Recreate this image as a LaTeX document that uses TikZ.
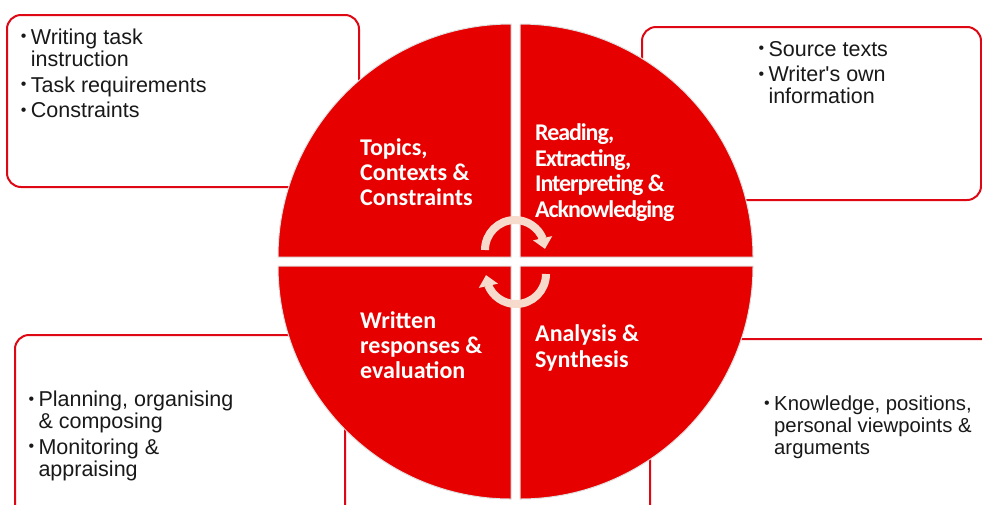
\documentclass[tikz,border=0pt]{standalone}
\usepackage{fontspec}
\setmainfont{Liberation Sans}
\newfontfamily\segfont{Carlito}
\newfontfamily\segfontcond[LetterSpace=-4.5]{Carlito}
\usetikzlibrary{arrows.meta, bending}
\definecolor{CircleRed}{RGB}{230,0,0}
\definecolor{FrameRed}{RGB}{222,8,20}
\definecolor{CycleArrow}{RGB}{246,218,204}
\definecolor{ListText}{RGB}{25,25,25}
\newcommand{\itemdot}{\makebox[10pt][l]{\raisebox{2.6pt}{\fontsize{16}{16}\selectfont\textbullet}}}
\tikzset{
  listbox/.style={draw=FrameRed, line width=2pt, fill=white, rounded corners=14pt},
  listtext/.style={anchor=base west, inner sep=0pt, text=ListText, font=\fontsize{21.5}{21}\selectfont},
  quarter/.style={fill=CircleRed, draw=black!12, line width=1pt},
  seglabel/.style={anchor=base west, inner sep=0pt, text=white, font=\segfont\bfseries\fontsize{24}{25.3}\selectfont},
  cyclearrow/.style={draw=CycleArrow, line width=8pt, -{Triangle[width=19pt, length=11pt]}}
}

\begin{document}
\begin{tikzpicture}[x=1pt, y=-1pt]

\useasboundingbox (0,0) rectangle (982,504);
\clip (0,0) rectangle (982,504);

% lists round the circle
\draw[listbox] (7,15) rectangle (359,187);
\draw[listbox] (642,27) rectangle (981,200);
\draw[listbox] (15,335) rectangle (345,520);
\draw[listbox] (650,339) rectangle (1000,520);

\node[listtext] (taskList) at (20.7,44.3) {\begin{tabular}[t]{@{}l@{}l@{}}
  \itemdot & Writing task\\ & instruction\\[4pt]
  \itemdot & Task requirements\\[4pt]
  \itemdot & Constraints
\end{tabular}};
\node[listtext] (sourceList) at (758.3,56) {\begin{tabular}[t]{@{}l@{}l@{}}
  \itemdot & Source texts\\[4pt]
  \itemdot & Writer\textquotesingle s own\\ & information
\end{tabular}};
\node[listtext] (writingList) at (28.3,406.7) {\begin{tabular}[t]{@{}l@{}l@{}}
  \itemdot & Planning, organising\\ & \& composing\\[4pt]
  \itemdot & Monitoring \&\\ & appraising
\end{tabular}};
\node[listtext, font=\fontsize{20.3}{21}\selectfont] (knowledgeList) at (764,410.7) {\begin{tabular}[t]{@{}l@{}l@{}}
  \itemdot & Knowledge, positions,\\[1pt] & personal viewpoints \&\\[1pt] & arguments
\end{tabular}};

% circle in four parts
\coordinate (TLc) at (511,257);
\coordinate (TRc) at (520,257);
\coordinate (BLc) at (511,266);
\coordinate (BRc) at (520,266);
\draw[quarter] (TLc) -- ++(-233,0) arc[start angle=180, end angle=270, radius=233] -- cycle;
\draw[quarter] (TRc) -- ++(0,-233) arc[start angle=270, end angle=360, radius=233] -- cycle;
\draw[quarter] (BRc) -- ++(233,0) arc[start angle=0, end angle=90, radius=233] -- cycle;
\draw[quarter] (BLc) -- ++(0,233) arc[start angle=90, end angle=180, radius=233] -- cycle;

% cycle arrows
\coordinate (topArc) at (485,250);
\coordinate (bottomArc) at (546,274);
\draw[cyclearrow] (topArc) arc[start angle=180, end angle=358, radius=30];
\draw[cyclearrow] (bottomArc) arc[start angle=0, end angle=178, radius=30];

\node[seglabel] (topics) at (360,155) {\begin{tabular}[t]{@{}l@{}}Topics,\\Contexts \&\\Constraints\end{tabular}};
\node[seglabel, font=\segfontcond\bfseries\fontsize{24}{25.5}\selectfont] (reading) at (535,140.7) {\begin{tabular}[t]{@{}l@{}}Reading,\\Extracting,\\Interpreting \&\\Acknowledging\end{tabular}};
\node[seglabel] (written) at (360,328.3) {\begin{tabular}[t]{@{}l@{}}Written\\responses \&\\evaluation\end{tabular}};
\node[seglabel] (analysis) at (535,341.7) {\begin{tabular}[t]{@{}l@{}}Analysis \&\\Synthesis\end{tabular}};

\end{tikzpicture}
\end{document}
